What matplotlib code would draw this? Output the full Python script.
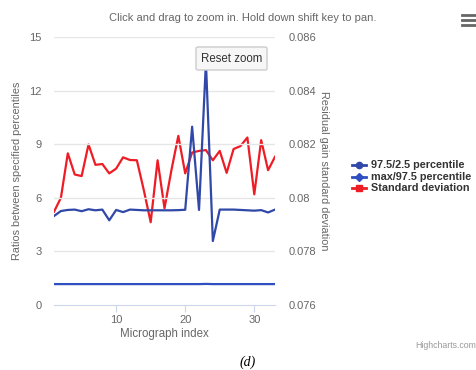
import matplotlib
matplotlib.use("Agg")
from matplotlib import pyplot as plt
from matplotlib.patches import FancyBboxPatch

plt.rcParams['font.family'] = ['Liberation Sans', 'DejaVu Sans']

# micrograph index
index = list(range(1, 34))

# 97.5/2.5 percentile ratio (left axis)
ratio_97_2 = [4.98, 5.26, 5.32, 5.34, 5.25, 5.36, 5.30, 5.34, 4.74, 5.32, 5.20,
              5.34, 5.32, 5.30, 5.30, 5.30, 5.30, 5.30, 5.31, 5.33, 9.98, 5.32,
              13.6, 3.58, 5.34, 5.34, 5.34, 5.32, 5.30, 5.28, 5.31, 5.18, 5.34]

# max/97.5 percentile ratio (left axis)
ratio_max_97 = [1.17, 1.17, 1.17, 1.17, 1.17, 1.17, 1.17, 1.17, 1.17, 1.17, 1.17,
                1.17, 1.17, 1.17, 1.17, 1.17, 1.17, 1.17, 1.17, 1.17, 1.17, 1.17,
                1.18, 1.17, 1.17, 1.17, 1.17, 1.17, 1.17, 1.17, 1.17, 1.17, 1.17]

# residual gain standard deviation (right axis)
std_dev = [0.07948, 0.08000, 0.08166, 0.08087, 0.08081, 0.08199, 0.08123,
           0.08126, 0.08091, 0.08109, 0.08151, 0.08141, 0.08140, 0.08029, 0.07909,
           0.08140, 0.07961, 0.08103, 0.08231, 0.08091, 0.08169, 0.08175, 0.08178,
           0.08140, 0.08175, 0.08093, 0.08182, 0.08193, 0.08225, 0.08013, 0.08215,
           0.08103, 0.08153]

left_ticks = [0, 3, 6, 9, 12, 15]
right_ticks = [0.076, 0.078, 0.08, 0.082, 0.084, 0.086]
right_labels = ["0.076", "0.078", "0.08", "0.082", "0.084", "0.086"]

c_blue1 = "#3048a8"
c_blue2 = "#2f4fc0"
c_red = "#ee1c25"
grey = "#666666"

fig = plt.figure(figsize=(4.77, 3.70), dpi=100)
ax = fig.add_axes([54 / 477, 1 - 305 / 370, 221 / 477, 268 / 370])
ax2 = ax.twinx()

ax.plot(index, ratio_97_2, color=c_blue1, lw=1.6, zorder=3)
ax.plot(index, ratio_max_97, color=c_blue2, lw=1.6, zorder=3)
ax2.plot(index, std_dev, color=c_red, lw=1.6, zorder=2)
ax.set_zorder(ax2.get_zorder() + 1)
ax.patch.set_visible(False)

ax.set_xlim(1, 33)
ax.set_ylim(0, 15)
ax2.set_ylim(0.076, 0.086)
ax.set_yticks(left_ticks)
ax2.set_yticks(right_ticks)
ax2.set_yticklabels(right_labels)
ax.set_xticks([10, 20, 30])

for t in left_ticks[1:]:
    ax.axhline(t, color="#e6e6e6", lw=1, zorder=0)

for a in (ax, ax2):
    for s in a.spines.values():
        s.set_visible(False)
ax.spines["bottom"].set_visible(True)
ax.spines["bottom"].set_color("#ccd6eb")

ax.tick_params(axis="y", length=0, labelsize=8, labelcolor=grey, pad=9)
ax2.tick_params(axis="y", length=0, labelsize=8, labelcolor=grey, pad=10)
ax.tick_params(axis="x", length=5, color="#ccd6eb", labelsize=8, labelcolor=grey, pad=2)

ax.set_ylabel("Ratios between specified percentiles", fontsize=7.8, color=grey)
ax.yaxis.set_label_coords(-0.145, 0.5)
ax2.set_ylabel("Residual gain standard deviation", fontsize=7.8, color=grey,
               rotation=270, va="center")
ax2.yaxis.set_label_coords(1.22, 0.5)
ax.set_xlabel("Micrograph index", fontsize=8.3, color=grey, labelpad=2)

fig.text(243 / 477, 1 - 18 / 370, "Click and drag to zoom in. Hold down shift key to pan.",
         ha="center", va="center", fontsize=8.0, color=grey)

# reset zoom button
btn = FancyBboxPatch((196 / 477, 1 - 70 / 370), 71 / 477, 23 / 370,
                     boxstyle="round,pad=0,rounding_size=0.004",
                     transform=fig.transFigure, facecolor="#f7f7f7",
                     edgecolor="#cccccc", lw=1, zorder=10)
fig.add_artist(btn)
fig.text(231.5 / 477, 1 - 58.5 / 370, "Reset zoom", ha="center", va="center",
         fontsize=8.3, color="#333333", zorder=11)

# menu icon
for yy in (15, 20, 25):
    fig.add_artist(plt.Line2D([462 / 477, 476 / 477], [1 - yy / 370, 1 - yy / 370],
                              transform=fig.transFigure, color="#666666", lw=2))

# legend
legend_items = [("97.5/2.5 percentile", c_blue1, "o"),
                ("max/97.5 percentile", c_blue2, "D"),
                ("Standard deviation", c_red, "s")]
for i, (label, col, mk) in enumerate(legend_items):
    yy = 1 - (165 + i * 11.5) / 370
    fig.add_artist(plt.Line2D([352 / 477, 366 / 477], [yy, yy], transform=fig.transFigure,
                              color=col, lw=2))
    fig.add_artist(plt.Line2D([359 / 477], [yy], transform=fig.transFigure,
                              color=col, marker=mk, markersize=4.5 if mk != "D" else 4))
    fig.text(371 / 477, yy, label, ha="left", va="center", fontsize=7.8,
             fontweight="bold", color="#333333")

fig.text(476 / 477, 1 - 345 / 370, "Highcharts.com", ha="right", va="center",
         fontsize=6.3, color="#999999")
fig.text(248 / 477, 1 - 362 / 370, "(d)", ha="center", va="center", fontsize=10,
         family="Liberation Serif", style="italic", color="black")

fig.savefig("out.png", dpi=100)
